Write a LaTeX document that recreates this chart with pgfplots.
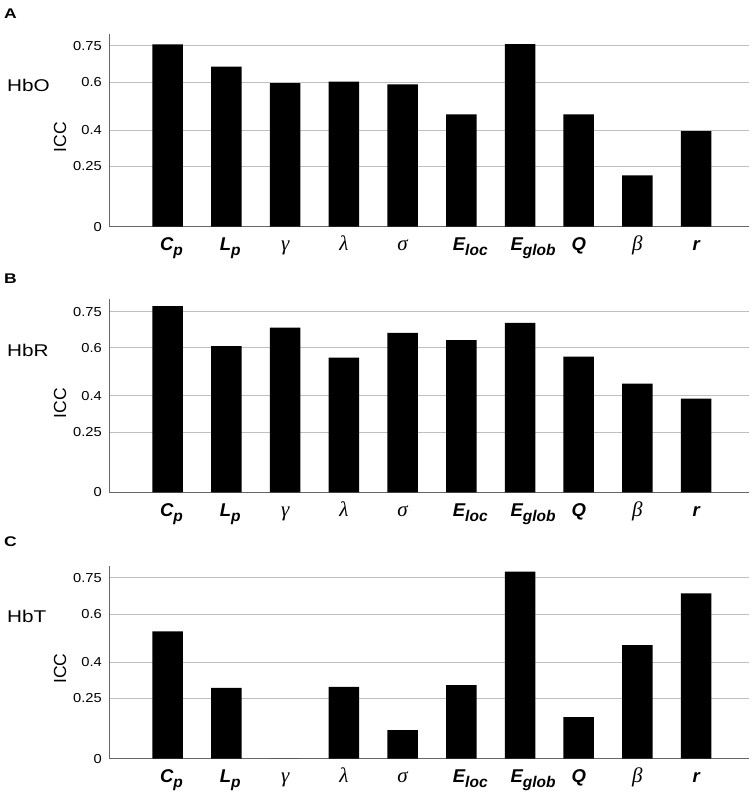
\documentclass[border=0pt]{standalone}
\usepackage{fontspec}
\setmainfont{Liberation Sans}
\usepackage{pgfplots}
\pgfplotsset{compat=1.18}
\newcommand{\lab}[2]{{\bfseries\itshape #1}\makebox[0.2\width][l]{\raisebox{-5pt}{\fontsize{15.5}{15.5}\selectfont\bfseries\itshape #2}}}
\newcommand{\gr}[1]{{\fontsize{21}{21}\selectfont\fontspec{Liberation Serif}\itshape #1}}
\newcommand{\wide}[1]{\scalebox{1.13}[1]{#1}}
\pgfplotsset{
  iccstyle/.style={
    scale only axis, width=640pt, height=192.8pt,
    xmin=-1, xmax=9.9, ymin=0, ymax=0.8,
    axis lines=left, axis line style={-, draw=black!60, line width=0.9pt},
    ytick={0,0.25,0.4,0.6,0.75},
    yticklabels={\wide{0},\wide{0.25},\wide{0.4},\wide{0.6},\wide{0.75}},
    ymajorgrids, grid style={black!25, line width=0.9pt},
    major tick length=0pt,
    yticklabel style={anchor=east, inner sep=0pt, xshift=-7pt, font=\fontsize{13}{13}\selectfont},
    xtick={0,...,9},
    xticklabels={\lab{C}{p},\lab{L}{p},\gr{γ},\gr{λ},\gr{σ},\lab{E}{loc},\lab{E}{glob},\lab{Q}{},\gr{β},\lab{r}{}},
    xticklabel style={anchor=base, inner sep=0pt, yshift=-24pt, font=\fontsize{18.5}{18.5}\selectfont},
    ybar, bar width=30.5pt,
  }
}
\begin{document}
\begin{tikzpicture}
\useasboundingbox (0pt,0pt) rectangle (754pt,799pt);
% Panel A
\begin{axis}[iccstyle, at={(109pt,572.3pt)}, anchor=south west]
\addplot[fill=black, draw=none] coordinates {(0,0.757) (1,0.664) (2,0.596) (3,0.602) (4,0.591) (5,0.466) (6,0.758) (7,0.466) (8,0.213) (9,0.397)};
\end{axis}
% Panel B
\begin{axis}[iccstyle, at={(109pt,306.7pt)}, anchor=south west]
\addplot[fill=black, draw=none] coordinates {(0,0.772) (1,0.607) (2,0.683) (3,0.559) (4,0.661) (5,0.631) (6,0.703) (7,0.563) (8,0.451) (9,0.389)};
\end{axis}
% Panel C
\begin{axis}[iccstyle, at={(109pt,40.3pt)}, anchor=south west]
\addplot[fill=black, draw=none] coordinates {(0,0.528) (1,0.294) (2,0) (3,0.298) (4,0.119) (5,0.305) (6,0.776) (7,0.173) (8,0.471) (9,0.686)};
\end{axis}
% labels
\node[font=\fontsize{14}{14}\selectfont\bfseries] at (10.5pt,785pt) {\scalebox{1.25}[1]{A}};
\node[font=\fontsize{14}{14}\selectfont\bfseries] at (10.5pt,520.3pt) {\scalebox{1.25}[1]{B}};
\node[font=\fontsize{14}{14}\selectfont\bfseries] at (10.5pt,257pt) {\scalebox{1.25}[1]{C}};
\node[anchor=west, inner sep=0pt, font=\fontsize{17}{17}\selectfont] at (7pt,714pt) {\scalebox{1.22}[1]{HbO}};
\node[anchor=west, inner sep=0pt, font=\fontsize{17}{17}\selectfont] at (7pt,448.3pt) {\scalebox{1.22}[1]{HbR}};
\node[anchor=west, inner sep=0pt, font=\fontsize{17}{17}\selectfont] at (7pt,182.3pt) {\scalebox{1.22}[1]{HbT}};
\node[rotate=90, inner sep=0pt, font=\fontsize{17.5}{17.5}\selectfont] at (60pt,662pt) {ICC};
\node[rotate=90, inner sep=0pt, font=\fontsize{17.5}{17.5}\selectfont] at (60pt,396pt) {ICC};
\node[rotate=90, inner sep=0pt, font=\fontsize{17.5}{17.5}\selectfont] at (60pt,130.5pt) {ICC};
\end{tikzpicture}
\end{document}
